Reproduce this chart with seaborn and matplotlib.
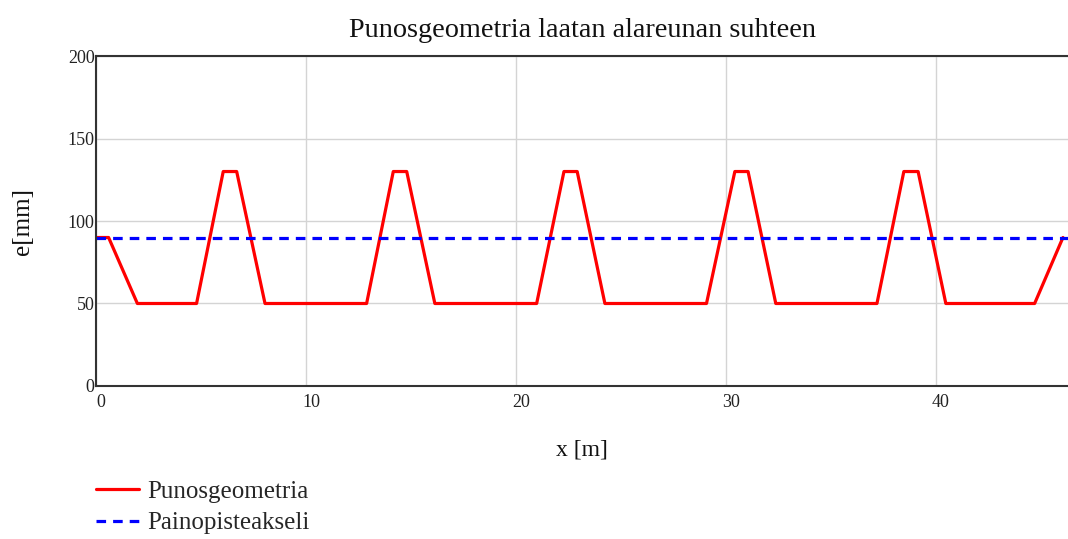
import matplotlib
matplotlib.use("Agg")
import matplotlib.pyplot as plt
import matplotlib.transforms as mtransforms
import seaborn as sns
import pandas as pd

# Tendon profile along the slab (x in m, eccentricity from bottom edge in mm)
x_m = [0, 0.6, 1.97, 4.79, 6.06, 6.70, 8.05, 12.89, 14.16, 14.80, 16.14, 20.99,
       22.29, 22.92, 24.24, 29.08, 30.43, 31.06, 32.38, 37.20, 38.48, 39.16,
       40.48, 44.71, 46.06]
e_mm = [90, 90, 50, 50, 130, 130, 50, 50, 130, 130, 50, 50,
        130, 130, 50, 50, 130, 130, 50, 50, 130, 130,
        50, 50, 90]

# Centroid axis
axis_x = [0, 46.3]
axis_e = [90, 90]

x_ticks = [0, 10, 20, 30, 40]
y_ticks = [0, 50, 100, 150, 200]

sns.set_style("white")
plt.rcParams["font.family"] = ["Liberation Serif", "DejaVu Serif"]

fig = plt.figure(figsize=(10.68, 5.39), dpi=100)
ax = fig.add_axes([0.0899, 0.2839, 0.9101, 0.6121])

df_tendon = pd.DataFrame({"x": x_m, "e": e_mm})
df_axis = pd.DataFrame({"x": axis_x, "e": axis_e})

sns.lineplot(data=df_tendon, x="x", y="e", ax=ax, color="#ff0000",
             linewidth=2.3, label="Punosgeometria", sort=False, estimator=None)
sns.lineplot(data=df_axis, x="x", y="e", ax=ax, color="#0000ff",
             linewidth=2.3, linestyle=(0, (3, 2.2)), label="Painopisteakseli",
             sort=False, estimator=None)

ax.set_xlim(0, 46.3)
ax.set_ylim(0, 200)
ax.set_xticks(x_ticks)
ax.set_yticks(y_ticks)
ax.grid(True, color="#d4d4d4", linewidth=1.0)
ax.set_axisbelow(True)

for side in ["left", "bottom", "top"]:
    ax.spines[side].set_color("#333333")
    ax.spines[side].set_linewidth(1.5)
ax.spines["right"].set_visible(False)

ax.tick_params(axis="both", length=0, labelsize=13, colors="#222222")
ax.tick_params(axis="x", pad=6)
ax.tick_params(axis="y", pad=1)
shift = mtransforms.ScaledTranslation(0.05, 0, fig.dpi_scale_trans)
for lab in ax.get_xticklabels():
    lab.set_transform(lab.get_transform() + shift)

ax.set_xlabel("x [m]", fontsize=17, labelpad=20, color="#111111")
ax.set_ylabel("e[mm]", fontsize=18, labelpad=24, color="#111111")
ax.set_title("Punosgeometria laatan alareunan suhteen", fontsize=20.3,
             pad=14, color="#111111")

ax.legend(loc="upper left", bbox_to_anchor=(0.0, -0.285), frameon=False,
          fontsize=18, handlelength=1.7, handletextpad=0.35, labelspacing=0.37,
          borderaxespad=0, borderpad=0)

fig.savefig("out.png", dpi=100)
